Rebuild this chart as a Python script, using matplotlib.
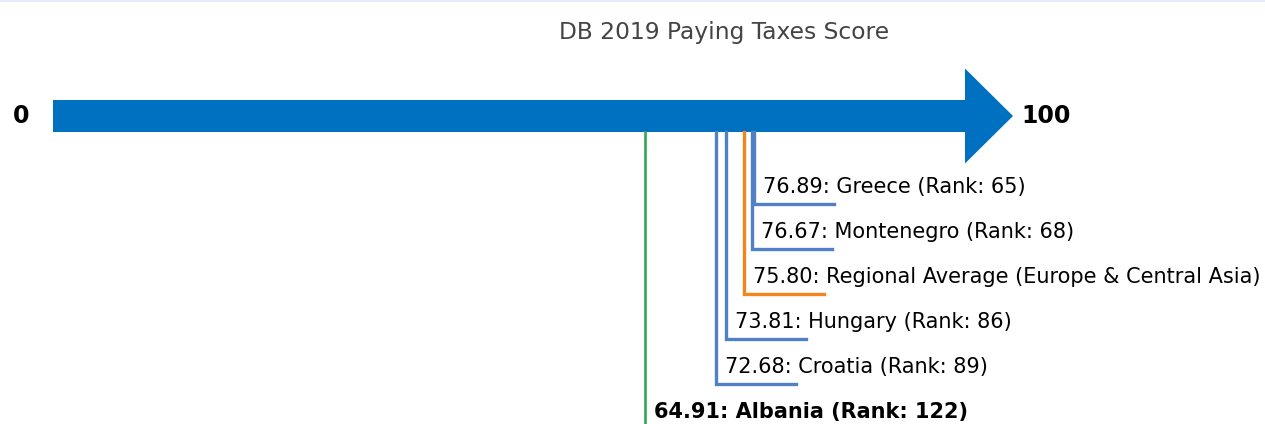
import matplotlib
matplotlib.use('Agg')
import matplotlib.pyplot as plt
from matplotlib.patches import FancyArrow
from matplotlib.lines import Line2D

# data
names = ['Greece', 'Montenegro', 'Regional Average (Europe & Central Asia)',
         'Hungary', 'Croatia', 'Albania']
scores = [76.89, 76.67, 75.80, 73.81, 72.68, 64.91]
ranks = [65, 68, None, 86, 89, 122]
kinds = ['peer', 'peer', 'region', 'peer', 'peer', 'focus']

colors = {'peer': '#4f81c4', 'region': '#f5841f', 'focus': '#33a853'}
arrow_color = '#0070c0'

# figure is laid out in pixels on y (0 at top), score units on x
W, H = 1265, 424
x0_px, px_per_unit = 53, 9.12

fig = plt.figure(figsize=(W / 100, H / 100), dpi=100)
ax = fig.add_axes([0, 0, 1, 1])
ax.set_xlim(-x0_px / px_per_unit, (W - x0_px) / px_per_unit)
ax.set_ylim(H, 0)
ax.axis('off')

# faint border at the top of the image
fig.add_artist(Line2D([0, 1], [0.998, 0.998], color='#e3edf7', lw=1.5,
                      transform=fig.transFigure))

# x in axes fraction, y in pixels
ax.text(0.5723, 32, 'DB 2019 Paying Taxes Score', transform=ax.get_yaxis_transform(),
        ha='center', va='center', fontsize=16.8, color='#444444')

# the main score arrow, 0 -> 100
arrow_y = 116
body_h = 32
head_w = 95
head_len = 48 / px_per_unit
ax.add_patch(FancyArrow(0, arrow_y, 100, 0, width=body_h, head_width=head_w,
                        head_length=head_len, length_includes_head=False,
                        color=arrow_color, lw=0))
ax.text(-2.6, arrow_y, '0', ha='right', va='center', fontsize=17,
        fontweight='bold', color='black')
ax.text(100 + head_len + 0.9, arrow_y, '100', ha='left', va='center',
        fontsize=17, fontweight='bold', color='black')

# leader lines and labels
line_top = arrow_y + body_h / 2
seg_len = 80 / px_per_unit
for i, (name, sc, rk, kind) in enumerate(zip(names, scores, ranks, kinds)):
    y_h = 204 + 45 * i
    c = colors[kind]
    lw = 1.9 if kind == 'focus' else 2.4
    ax.plot([sc, sc, sc + seg_len], [line_top, y_h, y_h], color=c, lw=lw,
            solid_joinstyle='miter', clip_on=True)
    if rk is None:
        label = f'{sc:.2f}: {name}'
    else:
        label = f'{sc:.2f}: {name} (Rank: {rk})'
    ax.text(sc + 1.0, y_h - 17, label, ha='left', va='center', fontsize=15,
            fontweight='bold' if kind == 'focus' else 'normal', color='black')

plt.savefig('out.png', dpi=100)
